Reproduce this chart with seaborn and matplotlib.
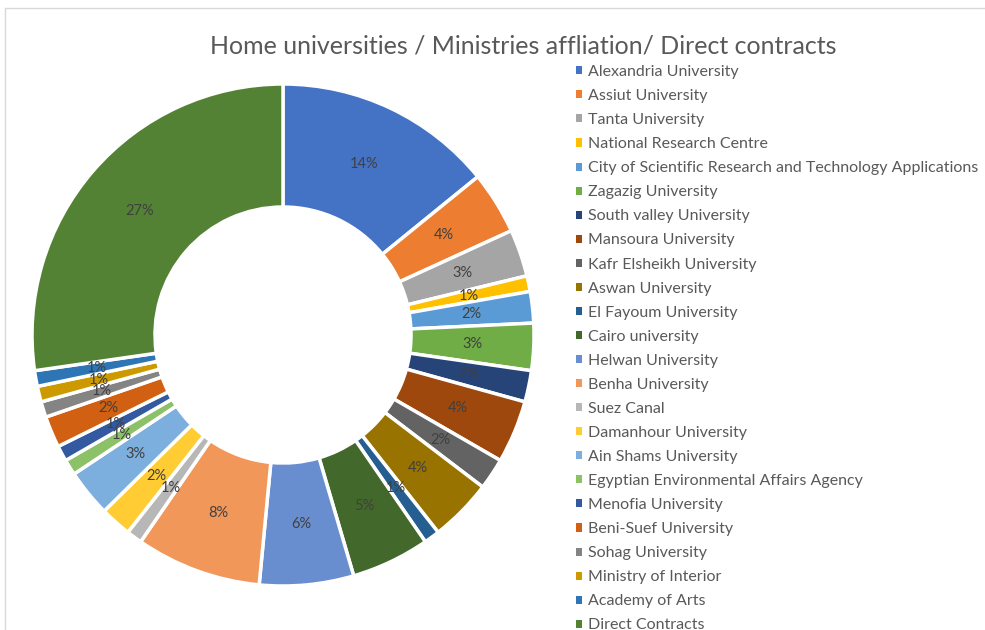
import matplotlib
matplotlib.use("Agg")
import matplotlib.pyplot as plt
from matplotlib.patches import Patch
import seaborn as sns

categories = [
    "Alexandria University", "Assiut University", "Tanta University",
    "National Research Centre",
    "City of Scientific Research and Technology Applications",
    "Zagazig University", "South valley University", "Mansoura University",
    "Kafr Elsheikh University", "Aswan University", "El Fayoum University",
    "Cairo university", "Helwan University", "Benha University", "Suez Canal",
    "Damanhour University", "Ain Shams University",
    "Egyptian Environmental Affairs Agency", "Menofia University",
    "Beni-Suef University", "Sohag University", "Ministry of Interior",
    "Academy of Arts", "Direct Contracts",
]
values = [14, 4, 3, 1, 2, 3, 2, 4, 2, 4, 1, 5, 6, 8, 1, 2, 3, 1, 1, 2, 1, 1, 1, 27]
colors = [
    "#4472C4", "#ED7D31", "#A5A5A5", "#FFC000", "#5B9BD5", "#70AD47",
    "#264478", "#9E480E", "#636363", "#997300", "#255E91", "#43682B",
    "#698ED0", "#F1975A", "#B7B7B7", "#FFCD33", "#7CAFDD", "#8CC168",
    "#335AA1", "#D26012", "#848484", "#CC9A00", "#2E75B6", "#548235",
]
title = "Home universities / Ministries affliation/ Direct contracts"

sns.set_theme(style="white")
plt.rcParams["font.family"] = ["Lato", "DejaVu Sans"]

W, H = 985, 630
fig = plt.figure(figsize=(W / 100, H / 100), dpi=100)
fig.patch.set_facecolor("white")

# chart-area border (top and left visible)
fig.add_artist(plt.Line2D([5 / W, 1.0], [1 - 8 / H, 1 - 8 / H], color="#d9d9d9", lw=1))
fig.add_artist(plt.Line2D([5 / W, 5 / W], [0, 1 - 8 / H], color="#d9d9d9", lw=1))

cx, cy, r = 283, 335, 251
ax = fig.add_axes([(cx - r) / W, (H - cy - r) / H, 2 * r / W, 2 * r / H])
wedges, texts, autotexts = ax.pie(
    values, colors=colors, startangle=90, counterclock=False,
    radius=1.0, autopct="%.0f%%", pctdistance=0.755,
    wedgeprops=dict(width=0.49, edgecolor="white", linewidth=2.5),
    textprops=dict(color="#404040", fontsize=10.5),
)
ax.set_xlim(-1, 1)
ax.set_ylim(-1, 1)
ax.set_aspect("equal")
ax.axis("off")

fig.text(523 / W, 1 - 46 / H, title, ha="center", va="center",
         fontsize=18, color="#595959")

handles = [Patch(facecolor=c, edgecolor="none") for c in colors]
leg = fig.legend(
    handles, categories, loc="upper left",
    bbox_to_anchor=(576 / W, 1 - 65 / H), frameon=False,
    fontsize=11.5, labelcolor="#595959",
    handlelength=0.4, handleheight=0.4, handletextpad=0.35,
    labelspacing=0.63, borderaxespad=0, borderpad=0,
)

fig.savefig("out.png", dpi=100, facecolor="white")
